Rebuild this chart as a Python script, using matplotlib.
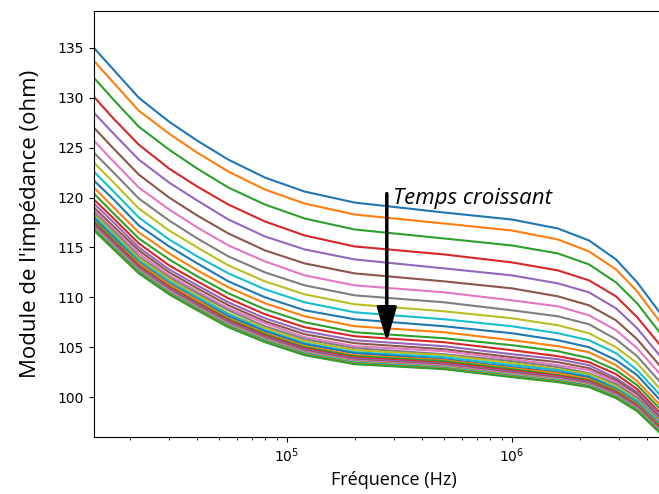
#!/usr/bin/python3

import matplotlib
matplotlib.use('Agg')
import matplotlib.pyplot as plt

# frequencies (Hz) where the curves were read
freq = [1.39e4, 1.7e4, 2.2e4, 3e4, 4e4, 5.5e4, 8e4, 1.2e5,
	2e5, 5e5, 1e6, 1.6e6, 2.2e6, 2.9e6, 3.6e6, 4.6e6]

# impedance modulus (ohm), one row per measurement, oldest first
impedance = [
	[135.0, 132.8, 130.0, 127.6, 125.7, 123.8, 122.0, 120.6, 119.5, 118.5, 117.8, 116.9, 115.7, 113.8, 111.5, 108.3],
	[133.7, 131.5, 128.7, 126.4, 124.5, 122.6, 120.8, 119.4, 118.3, 117.4, 116.7, 115.8, 114.6, 112.8, 110.6, 107.4],
	[132.0, 129.8, 127.1, 124.8, 122.9, 121.0, 119.3, 117.9, 116.8, 115.9, 115.2, 114.4, 113.3, 111.5, 109.4, 106.3],
	[130.1, 127.9, 125.3, 122.9, 121.1, 119.3, 117.6, 116.2, 115.1, 114.3, 113.5, 112.7, 111.7, 110.1, 108.0, 105.1],
	[128.5, 126.4, 123.8, 121.5, 119.7, 117.8, 116.1, 114.8, 113.8, 112.9, 112.2, 111.4, 110.5, 108.9, 106.9, 104.0],
	[127.0, 124.9, 122.3, 120.0, 118.2, 116.4, 114.7, 113.4, 112.4, 111.6, 110.9, 110.1, 109.2, 107.7, 105.8, 103.0],
	[125.7, 123.6, 121.0, 118.8, 117.0, 115.2, 113.6, 112.2, 111.2, 110.5, 109.7, 109.1, 108.2, 106.7, 104.9, 102.2],
	[124.5, 122.5, 119.9, 117.7, 115.9, 114.1, 112.5, 111.2, 110.2, 109.5, 108.7, 108.1, 107.3, 105.8, 104.1, 101.4],
	[123.5, 121.5, 118.9, 116.7, 115.0, 113.2, 111.6, 110.3, 109.3, 108.6, 107.9, 107.2, 106.4, 105.0, 103.4, 100.7],
	[122.6, 120.6, 118.0, 115.8, 114.1, 112.4, 110.8, 109.5, 108.5, 107.8, 107.1, 106.4, 105.7, 104.4, 102.7, 100.1],
	[121.7, 119.8, 117.2, 115.1, 113.4, 111.6, 110.0, 108.7, 107.8, 107.1, 106.4, 105.7, 105.0, 103.7, 102.2, 99.6],
	[121.0, 119.0, 116.5, 114.4, 112.7, 111.0, 109.4, 108.1, 107.1, 106.5, 105.7, 105.1, 104.5, 103.2, 101.6, 99.1],
	[120.4, 118.4, 115.9, 113.8, 112.1, 110.4, 108.8, 107.5, 106.5, 105.9, 105.2, 104.6, 103.9, 102.7, 101.2, 98.7],
	[119.8, 117.9, 115.4, 113.2, 111.6, 109.9, 108.3, 107.0, 106.1, 105.5, 104.7, 104.1, 103.5, 102.3, 100.8, 98.3],
	[119.4, 117.5, 115.0, 112.8, 111.2, 109.5, 107.9, 106.6, 105.7, 105.1, 104.3, 103.8, 103.2, 101.9, 100.5, 98.1],
	[119.0, 117.1, 114.7, 112.5, 110.9, 109.2, 107.6, 106.3, 105.4, 104.8, 104.0, 103.5, 102.9, 101.7, 100.3, 97.8],
	[118.8, 116.8, 114.4, 112.2, 110.6, 108.9, 107.4, 106.0, 105.1, 104.6, 103.8, 103.2, 102.7, 101.5, 100.0, 97.6],
	[118.5, 116.6, 114.1, 112.0, 110.4, 108.7, 107.1, 105.8, 104.9, 104.3, 103.6, 103.0, 102.4, 101.3, 99.9, 97.5],
	[118.3, 116.4, 113.9, 111.8, 110.2, 108.4, 106.9, 105.6, 104.7, 104.2, 103.4, 102.8, 102.3, 101.1, 99.7, 97.3],
	[118.1, 116.2, 113.7, 111.6, 110.0, 108.3, 106.7, 105.4, 104.5, 104.0, 103.2, 102.7, 102.1, 100.9, 99.6, 97.2],
	[117.9, 116.0, 113.5, 111.4, 109.8, 108.1, 106.6, 105.3, 104.4, 103.8, 103.0, 102.5, 102.0, 100.8, 99.4, 97.1],
	[117.7, 115.8, 113.4, 111.3, 109.7, 107.9, 106.4, 105.1, 104.2, 103.7, 102.9, 102.4, 101.8, 100.7, 99.3, 97.0],
	[117.6, 115.7, 113.2, 111.1, 109.5, 107.8, 106.3, 105.0, 104.1, 103.6, 102.8, 102.2, 101.7, 100.6, 99.2, 96.9],
	[117.45, 115.54, 113.12, 111.01, 109.4, 107.69, 106.18, 104.87, 103.96, 103.44, 102.65, 102.13, 101.6, 100.47, 99.13, 96.79],
	[117.32, 115.41, 113.0, 110.89, 109.28, 107.57, 106.06, 104.76, 103.85, 103.33, 102.54, 102.02, 101.5, 100.37, 99.04, 96.71],
	[117.21, 115.3, 112.89, 110.78, 109.18, 107.47, 105.96, 104.66, 103.75, 103.24, 102.44, 101.93, 101.41, 100.29, 98.96, 96.64],
	[117.1, 115.2, 112.79, 110.68, 109.07, 107.37, 105.86, 104.56, 103.66, 103.15, 102.35, 101.84, 101.32, 100.21, 98.88, 96.56],
	[117.01, 115.11, 112.7, 110.59, 108.99, 107.29, 105.78, 104.48, 103.58, 103.07, 102.27, 101.76, 101.25, 100.14, 98.82, 96.5],
	[116.94, 115.03, 112.63, 110.52, 108.92, 107.22, 105.71, 104.41, 103.51, 103.0, 102.21, 101.7, 101.19, 100.08, 98.77, 96.46],
	[116.86, 114.96, 112.56, 110.46, 108.85, 107.15, 105.65, 104.35, 103.45, 102.94, 102.14, 101.64, 101.13, 100.03, 98.72, 96.41],
	[116.81, 114.91, 112.51, 110.4, 108.8, 107.1, 105.6, 104.3, 103.4, 102.89, 102.09, 101.59, 101.09, 99.98, 98.68, 96.37],
	[116.75, 114.85, 112.45, 110.35, 108.75, 107.05, 105.55, 104.25, 103.35, 102.85, 102.05, 101.55, 101.04, 99.94, 98.64, 96.34],
	[116.7, 114.8, 112.4, 110.3, 108.7, 107.0, 105.5, 104.2, 103.3, 102.8, 102.0, 101.5, 101.0, 99.9, 98.6, 96.3],
]

arrow_x = 2.78e5
arrow_from = 120.4
arrow_to = 105.5
label_text = 'Temps croissant'


def main():
	''' draws the impedance spectra and saves them'''

	fig = plt.figure(figsize=(6.59, 4.94), dpi=100)
	# the original figure was cropped on the right, so the axes run past the edge
	ax = fig.add_axes([0.1426, 0.1154, 0.9105, 0.8623])

	for row in impedance:
		ax.plot(freq, row, lw=1.5)

	ax.set_xscale('log')
	ax.set_xlim(1.39e4, 6.44e6)
	ax.set_ylim(96.0, 138.7)
	ax.set_yticks([100, 105, 110, 115, 120, 125, 130, 135])

	ax.set_xlabel('Fréquence (Hz)', fontsize=13, family='Open Sans')
	ax.set_ylabel("Module de l'impédance (ohm)", fontsize=16, family='Open Sans',
		labelpad=12)

	ax.annotate('', xy=(arrow_x, arrow_to), xytext=(arrow_x, arrow_from),
		arrowprops=dict(arrowstyle='-|>,head_length=0.7,head_width=0.2',
			mutation_scale=30, lw=2.5, color='black', shrinkA=0, shrinkB=0))
	ax.text(2.96e5, 119.9, label_text, fontsize=16, style='italic',
		family='Open Sans', va='center', ha='left')

	fig.savefig('out.png', dpi=100)

	return


if __name__ == '__main__':
	main()
